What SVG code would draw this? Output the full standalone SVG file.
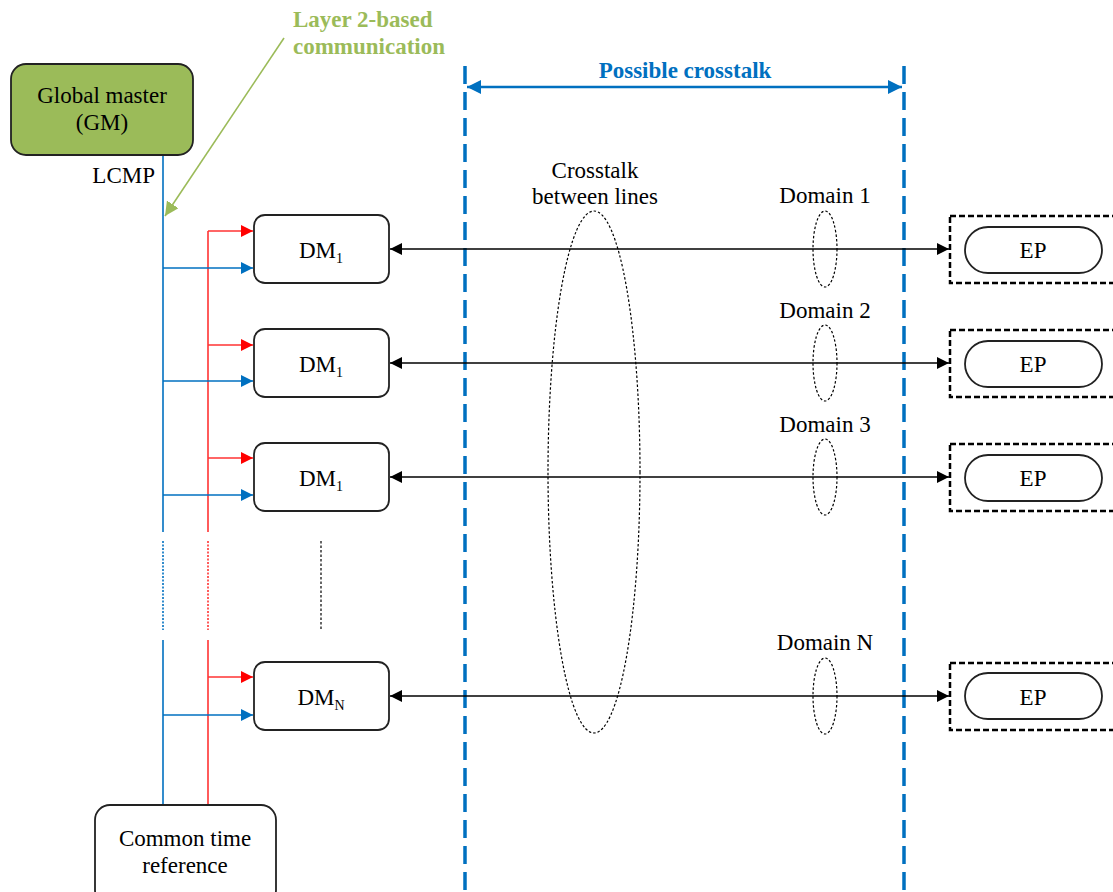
<svg xmlns="http://www.w3.org/2000/svg" width="1113" height="892" viewBox="0 0 1113 892" font-family="'Liberation Serif', 'Times New Roman', 'DejaVu Serif', serif">
<style>
text{font-family:'Liberation Serif','Times New Roman','DejaVu Serif',serif;font-size:23px;fill:#000}
.box{fill:#fff;stroke:#222;stroke-width:1.8}
.bl{stroke:#0070C0;stroke-width:1.6;fill:none}
.rd{stroke:#FF3333;stroke-width:1.6;fill:none}
.bk{stroke:#000;stroke-width:1.6;fill:none}
.dot{stroke:#000;stroke-width:1.2;fill:none;stroke-dasharray:2.5 2}
.vdash{stroke:#0070C0;stroke-width:3.5;stroke-dasharray:18 8;fill:none}
.epb{fill:none;stroke:#000;stroke-width:2.5;stroke-dasharray:6 3}
.sub{font-size:14px}
</style>
<defs>
<marker id="ab" viewBox="0 0 10 10" refX="10" refY="5" markerWidth="12" markerHeight="12" markerUnits="userSpaceOnUse" orient="auto"><path d="M0,0 L10,5 L0,10 z" fill="#0070C0"/></marker>
<marker id="ar" viewBox="0 0 10 10" refX="10" refY="5" markerWidth="12" markerHeight="12" markerUnits="userSpaceOnUse" orient="auto"><path d="M0,0 L10,5 L0,10 z" fill="#FF0000"/></marker>
<marker id="ak" viewBox="0 0 10 10" refX="10" refY="5" markerWidth="12" markerHeight="12" markerUnits="userSpaceOnUse" orient="auto-start-reverse"><path d="M0,0 L10,5 L0,10 z" fill="#000"/></marker>
<marker id="ag" viewBox="0 0 10 10" refX="10" refY="5" markerWidth="14" markerHeight="14" markerUnits="userSpaceOnUse" orient="auto"><path d="M0,0 L10,5 L0,10 z" fill="#9BBB59"/></marker>
<marker id="abb" viewBox="0 0 10 10" refX="10" refY="5" markerWidth="14" markerHeight="14" markerUnits="userSpaceOnUse" orient="auto-start-reverse"><path d="M0,0 L10,5 L0,10 z" fill="#0070C0"/></marker>
</defs>

<g id="crosstalk-zone">
<line class="vdash" x1="465" y1="66" x2="465" y2="892"/>
<line class="vdash" x1="904" y1="66" x2="904" y2="892"/>
<line x1="467" y1="87" x2="902" y2="87" stroke="#0070C0" stroke-width="2.5" marker-start="url(#abb)" marker-end="url(#abb)"/>
<text x="685" y="78" text-anchor="middle" font-weight="bold" style="fill:#0070C0">Possible crosstalk</text>
</g>

<g id="connectors">
<line class="bl" x1="163" y1="155" x2="163" y2="532"/>
<line class="bl" x1="163" y1="541" x2="163" y2="630" stroke-dasharray="2 1.5"/>
<line class="bl" x1="163" y1="640" x2="163" y2="805"/>
<line class="rd" x1="208" y1="231" x2="208" y2="532"/>
<line class="rd" x1="208" y1="541" x2="208" y2="630" stroke-dasharray="2 1.5"/>
<line class="rd" x1="208" y1="640" x2="208" y2="805"/>
<line class="dot" x1="321" y1="541" x2="321" y2="630"/>
<line x1="284" y1="38" x2="165" y2="216" stroke="#9BBB59" stroke-width="1.6" marker-end="url(#ag)"/>

<path class="rd" d="M208,231 H253" marker-end="url(#ar)"/>
<path class="bl" d="M163,268 H253" marker-end="url(#ab)"/>
<path class="rd" d="M208,345 H253" marker-end="url(#ar)"/>
<path class="bl" d="M163,381 H253" marker-end="url(#ab)"/>
<path class="rd" d="M208,458 H253" marker-end="url(#ar)"/>
<path class="bl" d="M163,495 H253" marker-end="url(#ab)"/>
<path class="rd" d="M208,677 H253" marker-end="url(#ar)"/>
<path class="bl" d="M163,715 H253" marker-end="url(#ab)"/>

<line class="bk" x1="390" y1="249" x2="949" y2="249" marker-start="url(#ak)" marker-end="url(#ak)"/>
<line class="bk" x1="390" y1="363" x2="949" y2="363" marker-start="url(#ak)" marker-end="url(#ak)"/>
<line class="bk" x1="390" y1="477" x2="949" y2="477" marker-start="url(#ak)" marker-end="url(#ak)"/>
<line class="bk" x1="390" y1="696" x2="949" y2="696" marker-start="url(#ak)" marker-end="url(#ak)"/>
</g>

<g id="annotations">
<text x="293" y="27" font-weight="bold" style="fill:#9BBB59">Layer 2-based</text>
<text x="293" y="54" font-weight="bold" style="fill:#9BBB59">communication</text>
<text x="155" y="183" text-anchor="end">LCMP</text>
<ellipse class="dot" cx="594" cy="472" rx="46" ry="261"/>
<text x="595" y="178" text-anchor="middle">Crosstalk</text>
<text x="595" y="204" text-anchor="middle">between lines</text>
<text x="825" y="203" text-anchor="middle">Domain 1</text>
<ellipse class="dot" cx="825" cy="249" rx="12" ry="38"/>
<text x="825" y="318" text-anchor="middle">Domain 2</text>
<ellipse class="dot" cx="825" cy="363" rx="12" ry="38"/>
<text x="825" y="432" text-anchor="middle">Domain 3</text>
<ellipse class="dot" cx="825" cy="477" rx="12" ry="38"/>
<text x="825" y="650" text-anchor="middle">Domain N</text>
<ellipse class="dot" cx="825" cy="696" rx="12" ry="38"/>
</g>

<g id="gm">
<rect x="11" y="64" width="182" height="91" rx="15" fill="#9BBB59" stroke="#222" stroke-width="1.8"/>
<text x="102" y="103" text-anchor="middle">Global master</text>
<text x="102" y="130" text-anchor="middle">(GM)</text>
</g>

<g id="ctr">
<rect class="box" x="95" y="805" width="181" height="100" rx="15"/>
<text x="185" y="846" text-anchor="middle">Common time</text>
<text x="185" y="873" text-anchor="middle">reference</text>
</g>

<g id="dm1">
<rect class="box" x="254" y="215" width="135" height="68" rx="11"/>
<text x="321" y="258" text-anchor="middle">DM<tspan class="sub" dy="5">1</tspan></text>
</g>
<g id="dm2">
<rect class="box" x="254" y="329" width="135" height="68" rx="11"/>
<text x="321" y="372" text-anchor="middle">DM<tspan class="sub" dy="5">1</tspan></text>
</g>
<g id="dm3">
<rect class="box" x="254" y="443" width="135" height="68" rx="11"/>
<text x="321" y="486" text-anchor="middle">DM<tspan class="sub" dy="5">1</tspan></text>
</g>
<g id="dmN">
<rect class="box" x="254" y="662" width="135" height="68" rx="11"/>
<text x="321" y="705" text-anchor="middle">DM<tspan class="sub" dy="5">N</tspan></text>
</g>

<g id="ep1">
<rect class="epb" x="950" y="216" width="175" height="67"/>
<rect class="box" x="965" y="227" width="137" height="46" rx="23"/>
<text x="1033" y="258" text-anchor="middle">EP</text>
</g>
<g id="ep2">
<rect class="epb" x="950" y="330" width="175" height="67"/>
<rect class="box" x="965" y="341" width="137" height="46" rx="23"/>
<text x="1033" y="372" text-anchor="middle">EP</text>
</g>
<g id="ep3">
<rect class="epb" x="950" y="444" width="175" height="67"/>
<rect class="box" x="965" y="455" width="137" height="46" rx="23"/>
<text x="1033" y="486" text-anchor="middle">EP</text>
</g>
<g id="epN">
<rect class="epb" x="950" y="663" width="175" height="67"/>
<rect class="box" x="965" y="673" width="137" height="46" rx="23"/>
<text x="1033" y="705" text-anchor="middle">EP</text>
</g>
</svg>
